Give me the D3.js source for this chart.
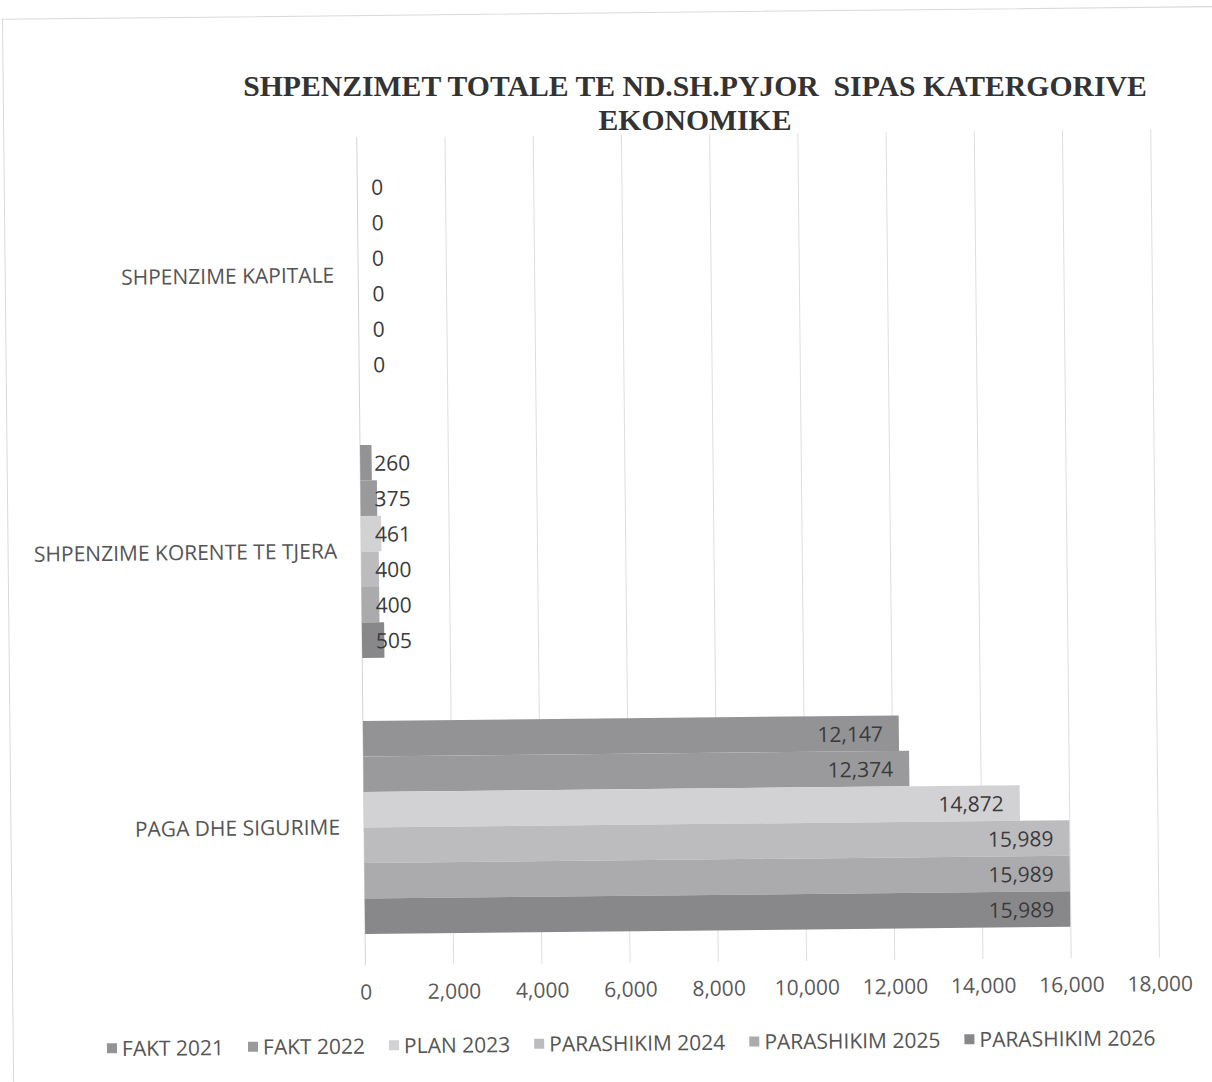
<!DOCTYPE html>
<html>
<head>
<meta charset="utf-8">
<script src="https://cdn.jsdelivr.net/npm/d3@7"></script>
<style>
  html, body { margin: 0; padding: 0; background: #ffffff; }
  svg { display: block; }
  .title text { white-space: pre; }
</style>
</head>
<body>
<svg id="chart" width="1212" height="1082"></svg>
<script>
// ---- Data ----
const categories = ["SHPENZIME KAPITALE", "SHPENZIME KORENTE TE TJERA", "PAGA DHE SIGURIME"];
const seriesNames = ["FAKT 2021", "FAKT 2022", "PLAN 2023", "PARASHIKIM 2024", "PARASHIKIM 2025", "PARASHIKIM 2026"];
const fakt2021 = [0, 260, 12147];
const fakt2022 = [0, 375, 12374];
const plan2023 = [0, 461, 14872];
const parashikim2024 = [0, 400, 15989];
const parashikim2025 = [0, 400, 15989];
const parashikim2026 = [0, 505, 15989];
const xTicks = [0, 2000, 4000, 6000, 8000, 10000, 12000, 14000, 16000, 18000];
const titleLines = ["SHPENZIMET TOTALE TE ND.SH.PYJOR  SIPAS KATERGORIVE", "EKONOMIKE"];

const seriesValues = [fakt2021, fakt2022, plan2023, parashikim2024, parashikim2025, parashikim2026];
const colors = ["#939396", "#9a9a9d", "#d2d2d5", "#bcbcbf", "#ababae", "#88888b"];

// ---- Layout ----
const svg = d3.select("#chart");
const root = svg.append("g").attr("transform", "rotate(-0.6,606,541)");

const plot = { left: 361, right: 1155, top: 135, bottom: 963 };

root.append("rect")
  .attr("x", 8).attr("y", 13).attr("width", 1210).attr("height", 1080)
  .attr("fill", "none").attr("stroke", "#d9d9d9").attr("stroke-width", 1);

const x = d3.scaleLinear().domain([0, 18000]).range([plot.left, plot.right]);
const y = d3.scaleBand().domain(categories).range([plot.top, plot.bottom]).paddingInner(0.228).paddingOuter(0.114);
const ySub = d3.scaleBand().domain(seriesNames).range([0, y.bandwidth()]).padding(0);
const color = d3.scaleOrdinal().domain(seriesNames).range(colors);

// Title (kept unrotated so its two lines stay clear of each other)
const title = svg.append("g").attr("class", "title");
title.selectAll("text").data(titleLines).join("text")
  .attr("x", 695)
  .attr("y", (d, i) => i === 0 ? 96 : 130)
  .attr("text-anchor", "middle")
  .attr("font-family", "'Liberation Serif', 'Times New Roman', serif")
  .attr("font-weight", "bold")
  .attr("font-size", 29.7)
  .attr("fill", "#333333")
  .text(d => d);

// Gridlines
root.append("g").selectAll("line").data(xTicks.slice(1)).join("line")
  .attr("x1", d => x(d)).attr("x2", d => x(d))
  .attr("y1", plot.top).attr("y2", plot.bottom)
  .attr("stroke", "#dedede").attr("stroke-width", 1);

// Category axis line
root.append("line")
  .attr("x1", x(0)).attr("x2", x(0))
  .attr("y1", plot.top).attr("y2", plot.bottom)
  .attr("stroke", "#d4d4d4").attr("stroke-width", 1);

// X axis (tick labels only)
const xAxis = d3.axisBottom(x).tickValues(xTicks).tickFormat(d3.format(",")).tickSize(0).tickPadding(0);
const xg = root.append("g").attr("transform", `translate(0,${plot.bottom + 19})`).call(xAxis);
xg.select(".domain").remove();
xg.selectAll("text")
  .attr("dy", "0.71em")
  .attr("font-family", "'Open Sans', sans-serif")
  .attr("font-size", 21)
  .attr("fill", "#595959");

// Y axis (category labels)
const yAxis = d3.axisLeft(y).tickSize(0).tickPadding(24);
const yg = root.append("g").attr("transform", `translate(${plot.left},0)`).call(yAxis);
yg.select(".domain").remove();
yg.selectAll("text")
  .attr("font-family", "'Open Sans', sans-serif")
  .attr("font-size", 21)
  .attr("fill", "#555555");

// Bars
const rows = [];
categories.forEach((c, ci) => {
  seriesNames.forEach((s, si) => rows.push({ cat: c, series: s, value: seriesValues[si][ci] }));
});

const bars = root.append("g");
bars.selectAll("rect").data(rows).join("rect")
  .attr("x", x(0))
  .attr("y", d => y(d.cat) + ySub(d.series))
  .attr("width", d => x(d.value) - x(0))
  .attr("height", ySub.bandwidth())
  .attr("fill", d => color(d.series));

// Data labels
const fmt = d3.format(",");
const labels = root.append("g");
labels.selectAll("text").data(rows).join("text")
  .attr("font-family", "'Open Sans', sans-serif")
  .attr("font-size", 21)
  .attr("fill", "#3a3a3a")
  .attr("dominant-baseline", "central")
  .attr("y", d => y(d.cat) + ySub(d.series) + ySub.bandwidth() / 2)
  .text(d => fmt(d.value))
  .each(function(d) {
    const w = this.getComputedTextLength();
    const end = x(d.value) - 16;
    if (end - w > x(0) + 13) {
      d3.select(this).attr("x", end).attr("text-anchor", "end");
    } else {
      d3.select(this).attr("x", x(0) + 14).attr("text-anchor", "start");
    }
  });

// Legend
const legend = root.append("g");
const items = legend.selectAll("g").data(seriesNames).join("g");
items.append("rect").attr("width", 10).attr("height", 10).attr("y", -5).attr("fill", d => color(d));
items.append("text")
  .attr("x", 15)
  .attr("dominant-baseline", "central")
  .attr("font-family", "'Open Sans', sans-serif")
  .attr("font-size", 21)
  .attr("fill", "#555555")
  .text(d => d);
const gap = 24;
const widths = [];
items.each(function() { widths.push(this.getBBox().width); });
const total = d3.sum(widths) + gap * (widths.length - 1);
let cx = 626 - total / 2;
items.each(function(d, i) {
  d3.select(this).attr("transform", `translate(${cx},1043)`);
  cx += widths[i] + gap;
});
</script>
</body>
</html>
